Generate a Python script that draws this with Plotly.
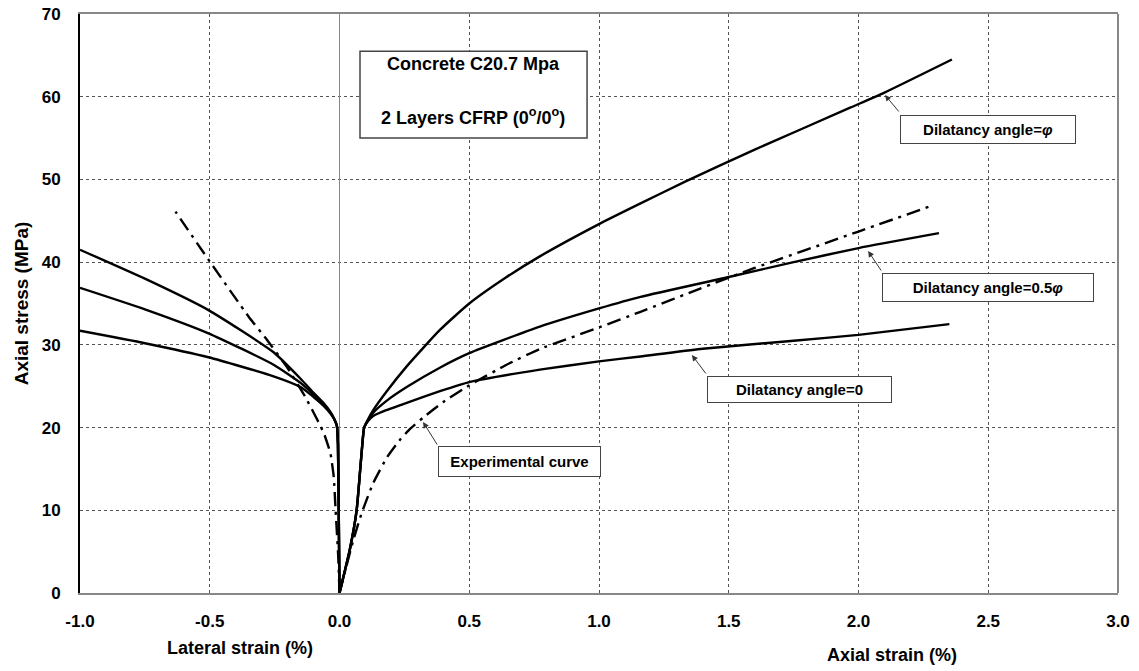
import plotly.graph_objects as go

# ---------------- data ----------------
# Axial side (positive strain)
ax_phi_x = [0, 0.04, 0.066, 0.08, 0.088, 0.095, 0.11, 0.13, 0.18, 0.259, 0.387, 0.5, 0.644, 0.772,
            1.0, 1.16, 1.33, 1.6, 1.97, 2.1, 2.36]
ax_phi_y = [0, 5.3, 10.0, 15.0, 18.0, 20.0, 21.0, 22.1, 24.3, 27.4, 31.8, 35.0, 38.2, 40.7,
            44.6, 47.1, 49.7, 53.6, 58.7, 60.5, 64.5]

ax_half_x = [0, 0.04, 0.066, 0.08, 0.088, 0.095, 0.11, 0.13, 0.18, 0.259, 0.39, 0.5, 0.772,
             1.0, 1.16, 1.5, 1.75, 2.0, 2.31]
ax_half_y = [0, 5.3, 10.0, 15.0, 18.0, 20.0, 20.9, 21.8, 23.2, 24.9, 27.3, 29.0, 32.2,
             34.4, 35.8, 38.2, 40.0, 41.7, 43.5]

ax_zero_x = [0, 0.04, 0.066, 0.08, 0.088, 0.095, 0.11, 0.13, 0.18, 0.259, 0.387, 0.5, 0.772,
             1.0, 1.16, 1.39, 1.75, 2.0, 2.35]
ax_zero_y = [0, 5.3, 10.0, 15.0, 18.0, 20.0, 20.8, 21.4, 22.1, 23.0, 24.4, 25.5, 27.0,
             28.0, 28.6, 29.5, 30.5, 31.2, 32.5]

ax_exp_x = [0, 0.013, 0.055, 0.087, 0.13, 0.183, 0.235, 0.274, 0.326, 0.4, 0.5, 0.644, 0.772,
            1.0, 1.16, 1.39, 1.6, 2.0, 2.29]
ax_exp_y = [0, 1.6, 6.6, 9.8, 13.3, 16.4, 18.6, 19.9, 21.3, 23.1, 25.1, 27.6, 29.5,
            32.1, 34.0, 36.8, 39.3, 43.7, 46.9]

# Lateral side (negative strain)
lat_x = [0, -0.003, -0.006, -0.01, -0.02, -0.035, -0.06, -0.1, -0.15, -0.254, -0.505, -0.75, -1.0]
lat_phi_y = [0, 10, 18, 20.2, 21.0, 21.9, 22.9, 24.2, 25.9, 29.1, 34.2, 38.0, 41.5]
lat_half_y = [0, 10, 18, 20.2, 21.0, 21.8, 22.8, 24.0, 25.4, 27.6, 31.4, 34.3, 36.9]
lat_zero_y = [0, 10, 18, 20.2, 21.0, 21.7, 22.6, 23.7, 24.9, 26.2, 28.5, 30.2, 31.7]

lat_exp_x = [0, -0.005, -0.015, -0.022, -0.035, -0.06, -0.08, -0.13, -0.2, -0.277, -0.35, -0.505, -0.632]
lat_exp_y = [0, 4.5, 10.0, 14.0, 16.9, 19.3, 20.6, 23.6, 27.2, 30.5, 33.4, 40.3, 46.1]

x_ticks = [-1.0, -0.5, 0.0, 0.5, 1.0, 1.5, 2.0, 2.5, 3.0]
x_tick_text = ["-1.0", "-0.5", "0.0", "0.5", "1.0", "1.5", "2.0", "2.5", "3.0"]
y_ticks = [0, 10, 20, 30, 40, 50, 60, 70]

# ---------------- figure ----------------
FONT = "Liberation Sans, Arial, sans-serif"
fig = go.Figure()

solid = dict(color="black", width=2.4, shape="spline", smoothing=0.5)
dashdot = dict(color="black", width=2.4, dash="14px,6px,3px,6px", shape="spline", smoothing=0.4)

for xs, ys in [(ax_phi_x, ax_phi_y), (ax_half_x, ax_half_y), (ax_zero_x, ax_zero_y),
               (lat_x, lat_phi_y), (lat_x, lat_half_y), (lat_x, lat_zero_y)]:
    fig.add_trace(go.Scatter(x=xs, y=ys, mode="lines", line=solid,
                             showlegend=False, hoverinfo="skip"))
for xs, ys in [(ax_exp_x, ax_exp_y), (lat_exp_x, lat_exp_y)]:
    fig.add_trace(go.Scatter(x=xs, y=ys, mode="lines", line=dashdot,
                             showlegend=False, hoverinfo="skip"))

fig.update_xaxes(range=[-1, 3], tickvals=x_ticks, ticktext=x_tick_text, automargin=False,
                 showgrid=True, gridcolor="#555", griddash="dot", gridwidth=1,
                 zeroline=True, zerolinecolor="#888", zerolinewidth=1,
                 showline=True, linecolor="#888", linewidth=2, mirror=True,
                 ticks="", ticklabelstandoff=12,
                 tickfont=dict(family=FONT, size=17, color="black", weight="bold"))
fig.update_yaxes(range=[0, 70], tickvals=y_ticks, automargin=False,
                 showgrid=True, gridcolor="#555", griddash="dot", gridwidth=1,
                 zeroline=False,
                 showline=True, linecolor="black", linewidth=2,
                 ticks="", ticklabelstandoff=14,
                 tickfont=dict(family=FONT, size=17, color="black", weight="bold"),
                 title=dict(text="Axial stress (MPa)", standoff=8,
                            font=dict(family=FONT, size=19, color="black", weight="bold")))

# right frame edge
fig.add_shape(type="line", xref="paper", yref="paper", x0=1, x1=1, y0=0, y1=1,
              line=dict(color="#888", width=2))

# axis captions below
fig.add_annotation(text="<b>Lateral strain (%)</b>", xref="paper", yref="paper", x=0.154, y=-0.095,
                   xanchor="center", yanchor="middle",
                   showarrow=False, font=dict(family=FONT, size=18, color="black"))
fig.add_annotation(text="<b>Axial strain (%)</b>", xref="paper", yref="paper", x=0.782, y=-0.107,
                   xanchor="center", yanchor="middle",
                   showarrow=False, font=dict(family=FONT, size=18, color="black"))

# Concrete info box
fig.add_shape(type="rect", xref="x", yref="y", x0=0.079, x1=0.954, y0=55.0, y1=65.5,
              line=dict(color="#444", width=1.5), fillcolor="white", layer="above")
fig.add_annotation(text="<b>Concrete C20.7 Mpa</b>", x=0.516, y=63.96, showarrow=False,
                   font=dict(family=FONT, size=18, color="black"))
fig.add_annotation(text="<b>2 Layers CFRP (0<sup>o</sup>/0<sup>o</sup>)</b>", x=0.516, y=57.6, showarrow=False,
                   font=dict(family=FONT, size=18, color="black"))

# labelled boxes
boxes = [
    ("<b>Dilatancy angle=<i>φ</i></b>", 2.499, 56.04, 172, 25),
    ("<b>Dilatancy angle=0.5<i>φ</i></b>", 2.499, 36.94, 208, 25),
    ("<b>Dilatancy angle=0</b>", 1.773, 24.6, 181, 23),
    ("<b>Experimental curve</b>", 0.694, 15.9, 159, 27),
]
for txt, x, y, w, h in boxes:
    fig.add_annotation(text=txt, x=x, y=y, showarrow=False, width=w, height=h,
                       bordercolor="#444", borderwidth=1, borderpad=1, bgcolor="white",
                       font=dict(family=FONT, size=15, color="black"))

# arrows (head, tail)
arrows = [
    (2.102, 60.21, 2.160, 58.03),
    (2.037, 41.35, 2.091, 38.81),
    (1.358, 28.78, 1.416, 26.36),
    (0.322, 20.67, 0.380, 17.77),
]
for hx, hy, tx, ty in arrows:
    fig.add_annotation(text="", x=hx, y=hy, ax=tx, ay=ty, axref="x", ayref="y",
                       showarrow=True, arrowhead=2, arrowsize=1.2, arrowwidth=1, arrowcolor="#333")

fig.update_layout(width=1139, height=671, margin=dict(l=80, r=21, t=14, b=78),
                  plot_bgcolor="white", paper_bgcolor="white",
                  font=dict(family=FONT, color="black"))

fig.write_html("out.html")
